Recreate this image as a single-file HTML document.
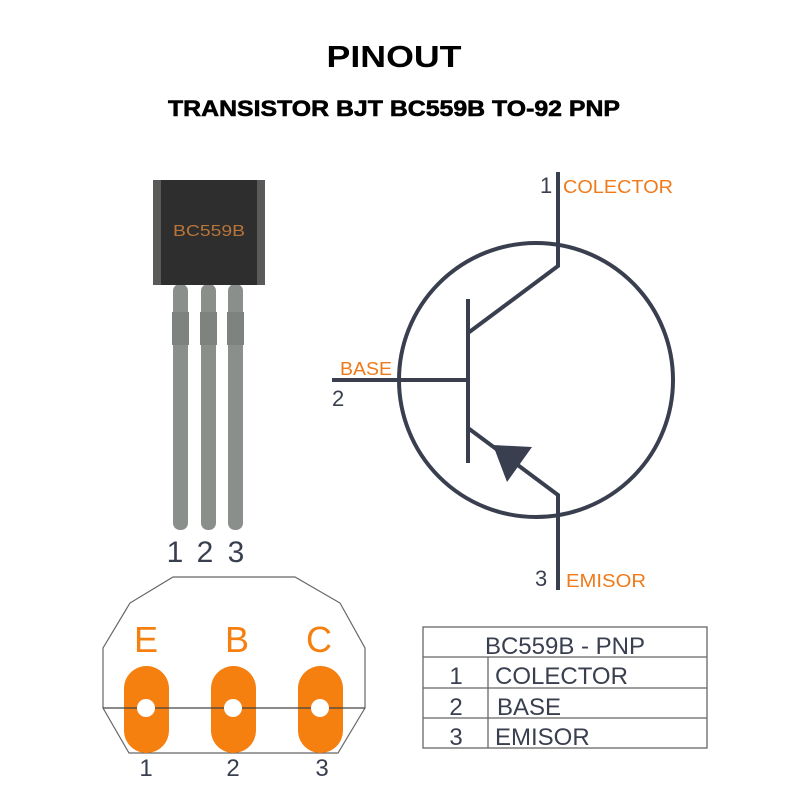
<!DOCTYPE html>
<html><head><meta charset="utf-8"><style>html,body{margin:0;padding:0;background:#fff}svg{display:block}</style></head>
<body>
<svg width="800" height="800" viewBox="0 0 800 800" xmlns="http://www.w3.org/2000/svg" font-family="Liberation Sans, DejaVu Sans, sans-serif">
<rect width="800" height="800" fill="#fff"/>
<text x="394" y="67" font-size="31" font-weight="bold" text-anchor="middle" textLength="135" lengthAdjust="spacingAndGlyphs" fill="#000">PINOUT</text>
<text x="168" y="116" font-size="22" font-weight="bold" textLength="452" lengthAdjust="spacingAndGlyphs" fill="#000" stroke="#000" stroke-width="0.6">TRANSISTOR BJT BC559B TO-92 PNP</text>

<!-- package -->
<g fill="#8b8f8b">
<rect x="173" y="284" width="15" height="246" rx="7"/>
<rect x="201" y="284" width="15" height="246" rx="7"/>
<rect x="228" y="284" width="15" height="246" rx="7"/>
<rect x="172" y="312" width="17" height="33" fill="#7f837f"/>
<rect x="200" y="312" width="17" height="33" fill="#7f837f"/>
<rect x="227" y="312" width="17" height="33" fill="#7f837f"/>
</g>
<rect x="153" y="180" width="112" height="105" fill="#2e2e2e"/>
<rect x="153" y="180" width="8" height="105" fill="#5a5a58"/>
<rect x="257" y="180" width="8" height="105" fill="#5a5a58"/>
<text x="209" y="236" font-size="16" text-anchor="middle" textLength="72" lengthAdjust="spacingAndGlyphs" fill="#b9743a">BC559B</text>
<g font-size="30" fill="#3a3f4f" text-anchor="middle">
<text x="175" y="562">1</text><text x="205" y="562">2</text><text x="236" y="562">3</text>
</g>

<!-- schematic -->
<g stroke="#3a3f4f" stroke-width="4" fill="none">
<circle cx="536" cy="380" r="137"/>
<polyline points="558,172 558,266 468,333"/>
<line x1="468" y1="299" x2="468" y2="463"/>
<line x1="332" y1="380" x2="468" y2="380"/>
<polyline points="468,428 558,495 558,590"/>
</g>
<polygon points="493,445 532,447 507,482" fill="#3a3f4f"/>
<text x="540" y="193" font-size="22" fill="#3a3f4f">1</text>
<text x="563" y="193" font-size="18" fill="#f07a1a" textLength="110" lengthAdjust="spacingAndGlyphs">COLECTOR</text>
<text x="340" y="375" font-size="18" fill="#f07a1a" textLength="52" lengthAdjust="spacingAndGlyphs">BASE</text>
<text x="332" y="406" font-size="22" fill="#3a3f4f">2</text>
<text x="535" y="586" font-size="22" fill="#3a3f4f">3</text>
<text x="566" y="587" font-size="18" fill="#f07a1a" textLength="80" lengthAdjust="spacingAndGlyphs">EMISOR</text>

<!-- footprint -->
<polygon points="103,648 130,603 173,577 295,577 340,603 365,648 365,708 338,753 129,753 103,708" fill="none" stroke="#666" stroke-width="1.2"/>
<g fill="#f57f0f">
<rect x="124" y="666" width="45" height="87" rx="22.5"/>
<rect x="211" y="666" width="45" height="87" rx="22.5"/>
<rect x="298" y="666" width="45" height="87" rx="22.5"/>
</g>
<line x1="103" y1="708" x2="365" y2="708" stroke="#444" stroke-width="1.3"/>
<g fill="#fff"><circle cx="146" cy="708" r="9"/><circle cx="233" cy="708" r="9"/><circle cx="320" cy="708" r="9"/></g>
<g font-size="36" fill="#f57f0f" text-anchor="middle">
<text x="146" y="652">E</text><text x="237" y="652">B</text><text x="319" y="652">C</text>
</g>
<g font-size="24" fill="#3a3f4f" text-anchor="middle">
<text x="146" y="776">1</text><text x="233" y="776">2</text><text x="322" y="776">3</text>
</g>

<!-- table -->
<g stroke="#666" stroke-width="1.3" fill="none">
<rect x="423" y="627" width="284" height="121"/>
<line x1="423" y1="657" x2="707" y2="657"/>
<line x1="423" y1="688" x2="707" y2="688"/>
<line x1="423" y1="718" x2="707" y2="718"/>
<line x1="488" y1="657" x2="488" y2="748"/>
</g>
<g font-size="24" fill="#3a3f4f">
<text x="565" y="654" text-anchor="middle">BC559B - PNP</text>
<text x="456" y="684" text-anchor="middle">1</text>
<text x="456" y="715" text-anchor="middle">2</text>
<text x="456" y="745" text-anchor="middle">3</text>
<text x="495" y="684">COLECTOR</text>
<text x="497" y="715">BASE</text>
<text x="495" y="745">EMISOR</text>
</g>
</svg>
</body></html>
